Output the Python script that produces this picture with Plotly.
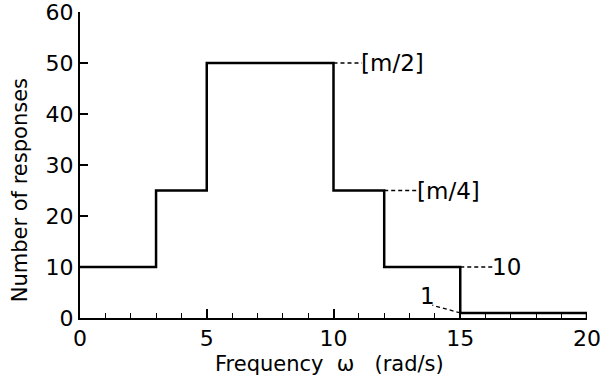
import plotly.graph_objects as go

# Data
edges = [0, 3, 5, 10, 12, 15, 20]
counts = [10, 25, 50, 25, 10, 1]
x_ticks = [0, 5, 10, 15, 20]
y_ticks = [0, 10, 20, 30, 40, 50, 60]
labels = ["[m/2]", "[m/4]", "10", "1"]
label_level = [50, 25, 10, 1]
label_start_x = [10, 12, 15, 15]

# build step outline
xs, ys = [], []
for i, c in enumerate(counts):
    xs += [edges[i], edges[i + 1]]
    ys += [c, c]
xs.append(edges[-1]); ys.append(0)

FONT = "DejaVu Sans"
fig = go.Figure()
fig.add_trace(go.Scatter(x=xs, y=ys, mode="lines",
                         line=dict(color="black", width=2.5, shape="linear"),
                         hoverinfo="skip", showlegend=False))

# leader lines and labels
leader_dx = [1.12, 1.33, 1.29]
for i in range(3):
    x0 = label_start_x[i]
    y0 = label_level[i]
    x1 = x0 + leader_dx[i]
    fig.add_trace(go.Scatter(x=[x0, x1], y=[y0, y0], mode="lines",
                             line=dict(color="black", width=1.3, dash="4px,3px"),
                             hoverinfo="skip", showlegend=False))
    fig.add_annotation(x=x1, y=y0, text=labels[i], showarrow=False,
                       xanchor="left", yanchor="middle", xshift=-3,
                       font=dict(family=FONT, size=23, color="black"))
# label "1"
fig.add_trace(go.Scatter(x=[label_start_x[3], 13.9], y=[label_level[3], 2.5], mode="lines",
                         line=dict(color="black", width=1.3, dash="4px,3px"),
                         hoverinfo="skip", showlegend=False))
fig.add_annotation(x=13.7, y=4.3, text=labels[3], showarrow=False,
                   xanchor="center", yanchor="middle",
                   font=dict(family=FONT, size=23, color="black"))

# axis titles as paper annotations
fig.add_annotation(xref="paper", yref="paper", x=-0.118, y=0.418,
                   text="Number of responses", textangle=-90, showarrow=False,
                   xanchor="center", yanchor="middle",
                   font=dict(family=FONT, size=21, color="black"))
fig.add_annotation(xref="paper", yref="paper", x=0.493, y=-0.150,
                   text="Frequency\u00a0\u00a0\u03c9\u00a0\u00a0\u00a0(rad/s)", showarrow=False,
                   xanchor="center", yanchor="middle",
                   font=dict(family=FONT, size=21, color="black"))

fig.update_layout(
    width=603, height=384,
    margin=dict(l=80, r=16, t=12, b=66, autoexpand=False),
    paper_bgcolor="white", plot_bgcolor="white",
    font=dict(family=FONT, size=20, color="black"),
)
fig.update_xaxes(range=[0, 20], tickvals=x_ticks, ticktext=[str(v) for v in x_ticks],
                 automargin=False, ticklabeloverflow="allow",
                 showline=True, linecolor="black", linewidth=2, showgrid=False, zeroline=False,
                 ticks="inside", ticklen=9, tickwidth=1.5, tickcolor="black",
                 minor=dict(dtick=1, tick0=0, ticks="inside", ticklen=5, tickwidth=1.2, tickcolor="black"),
                 tickfont=dict(family=FONT, size=22))
fig.update_yaxes(range=[0, 60], tickvals=y_ticks,
                 automargin=False, ticklabeloverflow="allow",
                 showline=True, linecolor="black", linewidth=2, showgrid=False, zeroline=False,
                 ticks="inside", ticklen=8, tickwidth=1.5, tickcolor="black",
                 tickfont=dict(family=FONT, size=22))

fig.write_html("out.html")
